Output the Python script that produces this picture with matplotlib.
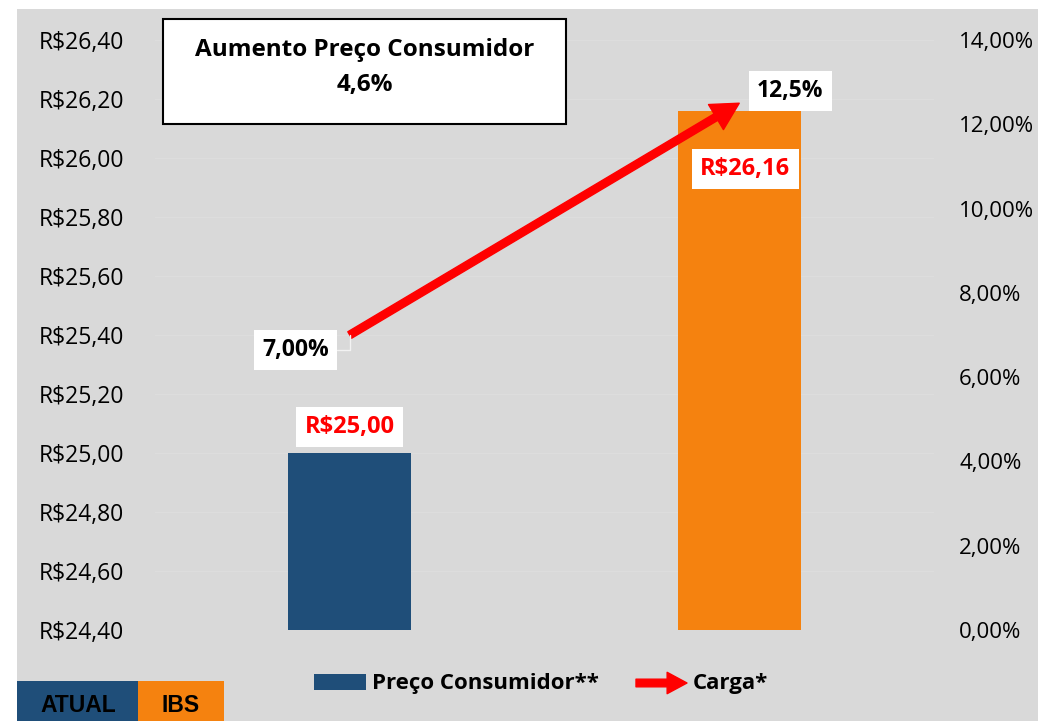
import matplotlib.pyplot as plt
from matplotlib.patches import Rectangle, FancyArrowPatch
from matplotlib.ticker import FuncFormatter, MultipleLocator

# Data
categorias = ['ATUAL', 'IBS']
preco = [25.00, 26.16]
carga = [0.07, 0.125]
rotulos_preco = ['R$25,00', 'R$26,16']
rotulos_carga = ['7,00%', '12,5%']
titulo = 'Aumento Preço Consumidor'
aumento = '4,6%'

azul = '#1f4e79'
laranja = '#f5820f'
vermelho = '#ff0000'
cinza = '#d9d9d9'

plt.rcParams['font.family'] = ['Open Sans', 'DejaVu Sans']

W, H = 1038, 721
fig = plt.figure(figsize=(W / 100, H / 100), dpi=100)
fig.patch.set_facecolor('white')

def fx(px):
    return px / W

def fy(py):
    return 1 - py / H

# grey chart area
fig.patches.append(Rectangle((fx(17), 0), 1 - fx(17), fy(9), transform=fig.transFigure,
                             facecolor=cinza, edgecolor='none', zorder=-10))

ax = fig.add_axes([fx(155), fy(630), fx(934) - fx(155), fy(40) - fy(630)])
ax.set_facecolor('none')
x = range(len(categorias))
ax.bar(x, [p - 24.4 for p in preco], bottom=24.4, width=0.316, color=[azul, laranja], zorder=3)
ax.set_xlim(-0.5, 1.5)
ax.set_ylim(24.4, 26.4)
ax.yaxis.set_major_locator(MultipleLocator(0.2))
ax.yaxis.set_major_formatter(FuncFormatter(lambda v, _: 'R$' + f'{v:.2f}'.replace('.', ',')))
ax.tick_params(axis='y', length=0, pad=22, labelsize=16.5)
ax.set_xticks([])
ax.grid(axis='y', color='#dddddd', lw=0.8, zorder=0)
for s in ax.spines.values():
    s.set_visible(False)

ax2 = ax.twinx()
ax2.set_ylim(0, 0.14)
ax2.yaxis.set_major_locator(MultipleLocator(0.02))
ax2.yaxis.set_major_formatter(FuncFormatter(lambda v, _: f'{v * 100:.2f}%'.replace('.', ',')))
ax2.tick_params(axis='y', length=0, pad=18, labelsize=16)
for s in ax2.spines.values():
    s.set_visible(False)

# arrow for Carga
arrow = FancyArrowPatch((0, carga[0]), (1, carga[1]),
                        arrowstyle='simple,head_length=1.3,head_width=1.4,tail_width=0.36',
                        mutation_scale=15, color=vermelho, shrinkA=0, shrinkB=0, zorder=5,
                        capstyle='round')
ax2.add_patch(arrow)

caixa = dict(boxstyle='square,pad=0.35', fc='white', ec='none')

# price labels
ax.annotate(rotulos_preco[0], xy=(0, preco[0]), xytext=(0, 26), textcoords='offset pixels',
            ha='center', va='center', fontsize=17, fontweight='bold', color=vermelho, bbox=caixa, zorder=6)
ax.annotate(rotulos_preco[1], xy=(1, preco[1]), xytext=(6, -58), textcoords='offset pixels',
            ha='center', va='center', fontsize=17, fontweight='bold', color=vermelho, bbox=caixa, zorder=6)

# carga labels
ax2.annotate(rotulos_carga[0], xy=(0, carga[0]), xytext=(-54, -15), textcoords='offset pixels',
             ha='center', va='center', fontsize=16.5, fontweight='bold', color='black', bbox=caixa,
             arrowprops=dict(arrowstyle='-', color='#f2f2f2', lw=1, shrinkA=0, shrinkB=0,
                             connectionstyle='angle,angleA=0,angleB=90,rad=0'), zorder=6)
ax2.annotate(rotulos_carga[1], xy=(1, carga[1]), xytext=(51, 12), textcoords='offset pixels',
             ha='center', va='center', fontsize=16.5, fontweight='bold', color='black', bbox=caixa, zorder=6)

# title box
fig.patches.append(Rectangle((fx(163), fy(124)), fx(566) - fx(163), fy(19) - fy(124),
                             transform=fig.transFigure, facecolor='white', edgecolor='black', lw=1.5, zorder=4))
fig.text(fx(364.5), fy(50), titulo, ha='center', va='center', fontsize=17.5, fontweight='bold', zorder=5)
fig.text(fx(364.5), fy(85), aumento, ha='center', va='center', fontsize=17.5, fontweight='bold', zorder=5)

# legend
fig.patches.append(Rectangle((fx(314), fy(690)), fx(366) - fx(314), fy(674) - fy(690),
                             transform=fig.transFigure, facecolor=azul, edgecolor='none', zorder=4))
fig.text(fx(372), fy(683), 'Preço Consumidor**', ha='left', va='center', fontsize=16, fontweight='bold')
fig.patches.append(FancyArrowPatch((fx(636), fy(683)), (fx(687), fy(683)), transform=fig.transFigure,
                                   arrowstyle='simple,head_length=1.3,head_width=1.4,tail_width=0.5',
                                   mutation_scale=11, color=vermelho, shrinkA=0, shrinkB=0, zorder=4))
fig.text(fx(693), fy(683), 'Carga*', ha='left', va='center', fontsize=16, fontweight='bold')

# category boxes bottom-left
fig.patches.append(Rectangle((fx(17), 0), fx(138) - fx(17), fy(681), transform=fig.transFigure,
                             facecolor=azul, edgecolor='none', zorder=4))
fig.patches.append(Rectangle((fx(138), 0), fx(224) - fx(138), fy(681), transform=fig.transFigure,
                             facecolor=laranja, edgecolor='none', zorder=4))
fig.text(fx(78), fy(706), categorias[0], ha='center', va='center', fontsize=16.5, fontweight='bold',
         family=['Liberation Sans', 'DejaVu Sans'], zorder=5)
fig.text(fx(181), fy(706), categorias[1], ha='center', va='center', fontsize=16.5, fontweight='bold',
         family=['Liberation Sans', 'DejaVu Sans'], zorder=5)

fig.savefig('out.png', dpi=100, facecolor=fig.get_facecolor())
